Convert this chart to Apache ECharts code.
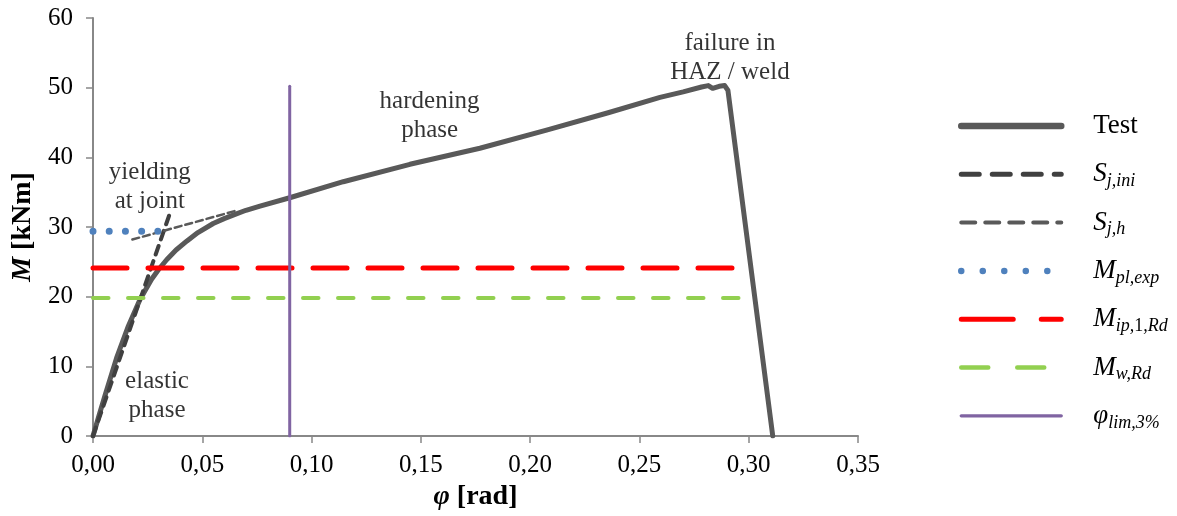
<!DOCTYPE html>
<html>
<head>
<meta charset="utf-8">
<script src="https://cdn.jsdelivr.net/npm/echarts@6/dist/echarts.min.js"></script>
<style>
html,body{margin:0;padding:0;background:#fff;}
#chart{width:1177px;height:516px;}
</style>
</head>
<body>
<div id="chart"></div>
<script>
// ---- data ----
const testPhi = [0, 0.003, 0.0055, 0.0108, 0.0162, 0.0215, 0.0268, 0.03, 0.0337, 0.038, 0.043, 0.048, 0.055, 0.06, 0.065, 0.07, 0.0764, 0.09, 0.1145, 0.145, 0.177, 0.2075, 0.2357, 0.2594, 0.27, 0.2784, 0.2815, 0.2835, 0.2865, 0.289, 0.2905, 0.311];
const testM   = [0, 3.2, 5.8, 11.2, 15.8, 19.6, 22.5, 23.9, 25.3, 26.7, 28.0, 29.2, 30.5, 31.2, 31.8, 32.4, 33.0, 34.2, 36.5, 39.0, 41.3, 43.9, 46.4, 48.6, 49.4, 50.1, 50.3, 49.9, 50.2, 50.3, 49.6, 0];
const sjIniPhi = [0, 0.035];
const sjIniM   = [0, 31.8];
const sjHPhi = [0.018, 0.065];
const sjHM   = [28.2, 32.3];
const mplPhi = [0, 0.03];
const mplM   = [29.4, 29.4];
const mipPhi = [0, 0.293];
const mipM   = [24.1, 24.1];
const mwPhi = [0, 0.2955];
const mwM   = [19.8, 19.8];
const limPhi = [0.09, 0.09];
const limM   = [0, 50.2];
const xTicks = [0, 0.05, 0.10, 0.15, 0.20, 0.25, 0.30, 0.35];
const yTicks = [0, 10, 20, 30, 40, 50, 60];
const noteText = ['yielding\nat joint', 'elastic\nphase', 'hardening\nphase', 'failure in\nHAZ / weld'];
const notePhi  = [0.026, 0.0293, 0.154, 0.2914];
const noteM    = [35.8, 5.7, 45.9, 54.3];
const seriesNames = ['Test', 'Sj,ini', 'Sj,h', 'Mpl,exp', 'Mip,1,Rd', 'Mw,Rd', 'φlim,3%'];

const zip = (a, b) => a.map((v, i) => [v, b[i]]);
const serif = '"Liberation Serif", "Times New Roman", serif';

const legendRich = {
  'Test': '{g|}{n|Test}',
  'Sj,ini': '{g|}{i|S}{s|j,ini}',
  'Sj,h': '{g|}{i|S}{s|j,h}',
  'Mpl,exp': '{g|}{i|M}{s|pl,exp}',
  'Mip,1,Rd': '{g|}{i|M}{s|ip,}{su|1}{s|,Rd}',
  'Mw,Rd': '{g|}{i|M}{s|w,Rd}',
  'φlim,3%': '{g|}{i|φ}{s|lim,3%}'
};
// legend sample line styles
const legendLines = {
  'Test':     {color: '#595959', width: 6.5, type: 'solid'},
  'Sj,ini':   {color: '#404040', width: 5, type: [18, 13]},
  'Sj,h':     {color: '#595959', width: 4, type: [14, 10]},
  'Mpl,exp':  {color: '#4F81BD', width: 6.5, type: [0.01, 21.5]},
  'Mip,1,Rd': {color: '#FF0000', width: 5, type: [52, 28]},
  'Mw,Rd':    {color: '#92D050', width: 4.5, type: [27, 29]},
  'φlim,3%':  {color: '#8064A2', width: 3.3, type: 'solid'}
};

const chart = echarts.init(document.getElementById('chart'), null, {renderer: 'canvas'});

function lineSeries(name, data, color, width, dash, z) {
  return {
    name: name, type: 'line', data: data, showSymbol: false, symbol: 'none',
    z: z, animation: false, silent: true,
    lineStyle: {color: color, width: width, type: dash, cap: 'round', join: 'round'},
    itemStyle: {color: color}
  };
}

const option = {
  animation: false,
  backgroundColor: '#ffffff',
  grid: {left: 93, right: 319, top: 18, bottom: 80, containLabel: false},
  xAxis: {
    type: 'value', min: 0, max: 0.35, interval: 0.05,
    name: '{b|φ}{r| [rad]}', nameLocation: 'middle', nameGap: 44,
    nameTextStyle: {rich: {
      b: {fontFamily: serif, fontSize: 28, fontWeight: 'bold', fontStyle: 'italic', color: '#000'},
      r: {fontFamily: serif, fontSize: 28, fontWeight: 'bold', color: '#000'}
    }},
    axisLine: {show: true, onZero: false, lineStyle: {color: '#888888', width: 2}},
    axisTick: {show: true, inside: false, length: 7, lineStyle: {color: '#888888', width: 1.5}},
    axisLabel: {margin: 17, fontFamily: serif, fontSize: 25, color: '#000',
      formatter: v => v.toFixed(2).replace('.', ',')},
    splitLine: {show: false}
  },
  yAxis: {
    type: 'value', min: 0, max: 60, interval: 10,
    name: '{b|M}{r| [kNm]}', nameLocation: 'middle', nameGap: 47, nameRotate: 90,
    nameTextStyle: {rich: {
      b: {fontFamily: serif, fontSize: 28, fontWeight: 'bold', fontStyle: 'italic', color: '#000'},
      r: {fontFamily: serif, fontSize: 28, fontWeight: 'bold', color: '#000'}
    }},
    axisLine: {show: true, onZero: false, lineStyle: {color: '#888888', width: 2}},
    axisTick: {show: true, inside: false, length: 7, lineStyle: {color: '#888888', width: 1.5}},
    axisLabel: {margin: 20, fontFamily: serif, fontSize: 25, color: '#000'},
    splitLine: {show: false}
  },
  legend: {
    data: seriesNames.map(n => ({
      name: n,
      itemStyle: {opacity: 0},
      lineStyle: Object.assign({cap: 'round', opacity: 1}, legendLines[n])
    })),
    orient: 'vertical', left: 953, top: 105,
    itemWidth: 100, itemHeight: 14, itemGap: 16.3,
    selectedMode: false,
    formatter: n => legendRich[n],
    textStyle: {
      fontFamily: serif, fontSize: 27, color: '#000', lineHeight: 32,
      rich: {
        g: {width: 27},
        n: {fontFamily: serif, fontSize: 27, color: '#000', lineHeight: 32},
        i: {fontFamily: serif, fontSize: 27, fontStyle: 'italic', color: '#000', lineHeight: 32},
        s: {fontFamily: serif, fontSize: 18, fontStyle: 'italic', color: '#000', lineHeight: 16, verticalAlign: 'bottom'},
        su: {fontFamily: serif, fontSize: 18, color: '#000', lineHeight: 16, verticalAlign: 'bottom'}
      }
    }
  },
  series: [
    lineSeries('Test', zip(testPhi, testM), '#595959', 5, 'solid', 2),
    lineSeries('Sj,ini', zip(sjIniPhi, sjIniM), '#404040', 4, [9, 7], 3),
    lineSeries('Sj,h', zip(sjHPhi, sjHM), '#595959', 2.5, [7, 4], 3),
    lineSeries('Mpl,exp', zip(mplPhi, mplM), '#4F81BD', 7, [0.01, 16.2], 3),
    lineSeries('Mip,1,Rd', zip(mipPhi, mipM), '#FF0000', 5, [34, 21], 3),
    lineSeries('Mw,Rd', zip(mwPhi, mwM), '#92D050', 4, [15.5, 19.5], 3),
    lineSeries('φlim,3%', zip(limPhi, limM), '#8064A2', 3, 'solid', 3),
    {
      name: 'notes', type: 'scatter', silent: true, z: 5,
      symbolSize: 1, itemStyle: {color: 'transparent'},
      data: noteText.map((t, i) => ({value: [notePhi[i], noteM[i]], text: t})),
      label: {
        show: true, position: 'inside', formatter: p => p.data.text,
        fontFamily: serif, fontSize: 25, color: '#000', lineHeight: 29, align: 'center'
      }
    }
  ]
};
chart.setOption(option);
</script>
</body>
</html>
